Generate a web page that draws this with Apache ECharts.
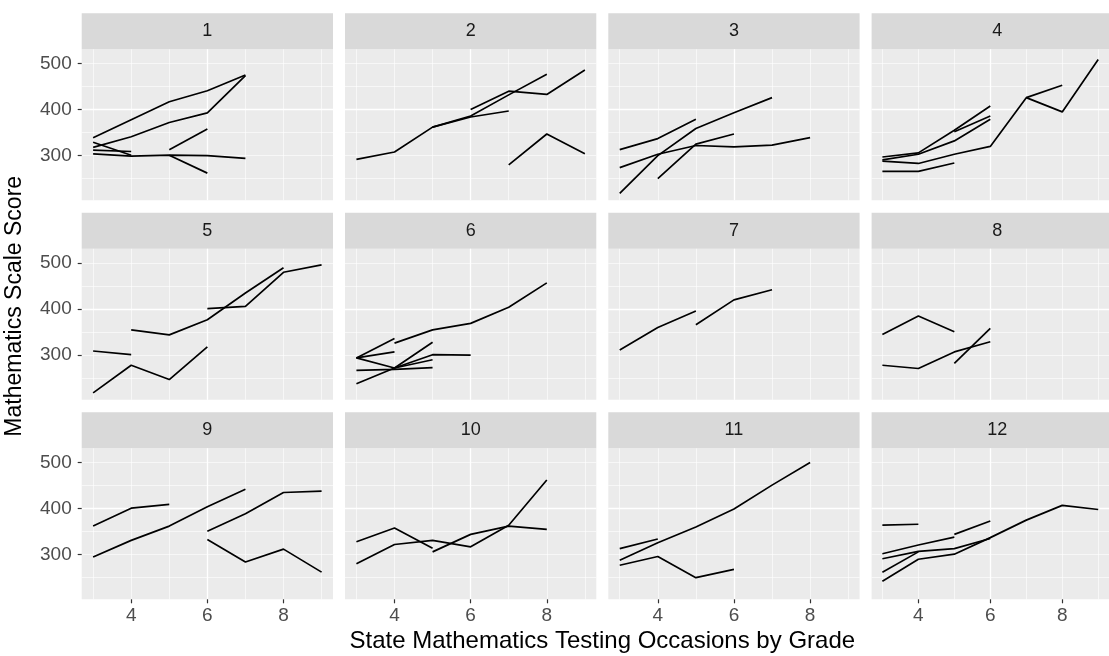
<!DOCTYPE html>
<html>
<head>
<meta charset="utf-8">
<script src="https://cdn.jsdelivr.net/npm/echarts@6/dist/echarts.min.js"></script>
<style>
  html, body { margin: 0; padding: 0; background: #ffffff; }
  #chart { width: 1109px; height: 656px; }
</style>
</head>
<body>
<div id="chart"></div>
<script>
// Testing occasions (grade) shared by every panel
const grades = [3, 4, 5, 6, 7, 8, 9];
const panelLabels = ['1', '2', '3', '4', '5', '6', '7', '8', '9', '10', '11', '12'];
const yTicks = [300, 400, 500];
const xTicks = [4, 6, 8];

// One row per student, scores aligned with `grades` (null = not tested)
const panel1 = [
  [339, 378, 417, 441, 475, null, null],
  [318, 341, 372, 393, 474, null, null],
  [329, 301, null, null, null, null, null],
  [312, 309, null, null, null, null, null],
  [304, 299, 301, 300, 294, null, null],
  [null, null, 313, 358, null, null, null],
  [null, null, 301, 262, null, null, null]
];
const panel2 = [
  [292, 308, 362, 386, 432, 477, null],
  [null, null, 362, 384, 397, null, null],
  [null, null, null, 400, 440, 433, 486],
  [null, null, null, null, 280, 347, 304]
];
const panel3 = [
  [313, 337, 379, null, null, null, null],
  [274, 303, 322, 319, 323, 339, null],
  [218, 300, 359, 393, 426, null, null],
  [null, 250, 325, 347, null, null, null]
];
const panel4 = [
  [297, 306, 355, 408, null, null, null],
  [291, 303, 332, 379, null, null, null],
  [null, null, 352, 386, null, null, null],
  [288, 283, 303, 320, 426, 395, 509],
  [null, null, null, null, 426, 453, null],
  [266, 266, 284, null, null, null, null]
];
const panel5 = [
  [309, 301, null, null, null, null, null],
  [218, 278, 247, 318, null, null, null],
  [null, 355, 344, 377, 435, 490, null],
  [null, null, null, 401, 406, 480, 496]
];
const panel6 = [
  [null, 326, 355, 369, 404, 457, null],
  [294, 336, null, null, null, null, null],
  [294, 307, null, null, null, null, null],
  [294, 272, 328, null, null, null, null],
  [267, 269, 273, null, null, null, null],
  [238, 272, 301, 300, null, null, null],
  [null, 272, 290, null, null, null, null]
];
const panel7 = [
  [311, 360, 396, null, null, null, null],
  [null, null, 366, 420, 442, null, null]
];
const panel8 = [
  [345, 385, 351, null, null, null, null],
  [278, 271, 307, 329, null, null, null],
  [null, null, 282, 358, null, null, null]
];
const panel9 = [
  [362, 401, 409, null, null, null, null],
  [295, 331, 362, 404, 442, null, null],
  [null, null, null, 351, 389, 435, 438],
  [null, null, null, 333, 284, 312, 262]
];
const panel10 = [
  [328, 358, 314, null, null, null, null],
  [280, 322, 331, 317, 364, 462, null],
  [null, null, 306, 344, 362, 355, null]
];
const panel11 = [
  [313, 334, null, null, null, null, null],
  [288, 326, 360, 399, 451, 500, null],
  [277, 296, 250, 268, null, null, null]
];
const panel12 = [
  [364, 366, null, null, null, null, null],
  [302, 321, 338, null, null, null, null],
  [null, null, 344, 373, null, null, null],
  [291, 307, 313, 335, null, null, null],
  [262, 306, null, null, null, null, null],
  [242, 290, 301, 337, 375, 407, 398]
];

const panels = [panel1, panel2, panel3, panel4, panel5, panel6,
                panel7, panel8, panel9, panel10, panel11, panel12];

// Facet layout (pixels)
const FONT = '"Liberation Sans", Arial, Helvetica, sans-serif';
const COLS = 4;
const colLeft0 = 81.7, colStep = 263.3, panelW = 251.3;
const rowTop0 = 13.3, rowStep = 199.5, stripH = 36, panelH = 151;
const X_MIN = 2.7, X_MAX = 9.3, Y_MIN = 203, Y_MAX = 531;

const grids = [], xAxes = [], yAxes = [], series = [], graphics = [];

panels.forEach((rows, i) => {
  const r = Math.floor(i / COLS), c = i % COLS;
  const left = colLeft0 + c * colStep;
  const stripTop = rowTop0 + r * rowStep;
  const top = stripTop + stripH;
  const bottomRow = r === 2, leftCol = c === 0;

  grids.push({
    left: left, top: top, width: panelW, height: panelH,
    show: true, backgroundColor: '#ebebeb', borderWidth: 0
  });

  // major x axis: ticks, labels, thick grid lines at 4, 6, 8
  xAxes.push({
    gridIndex: i, type: 'value', min: X_MIN, max: X_MAX,
    splitNumber: 3, minInterval: 2, maxInterval: 2,
    axisLine: { show: false },
    axisTick: { show: bottomRow, length: 4, customValues: xTicks,
                lineStyle: { color: '#333333', width: 1.2 } },
    axisLabel: { show: bottomRow, customValues: xTicks, margin: 7,
                 color: '#4d4d4d', fontSize: 19, fontFamily: FONT },
    splitLine: { show: true, showMinLine: false, showMaxLine: false,
                 lineStyle: { color: '#ffffff', width: 1.3 } }
  });
  // minor x axis: thin grid lines at every grade
  xAxes.push({
    gridIndex: i, type: 'value', min: X_MIN, max: X_MAX, position: 'bottom',
    splitNumber: 6, minInterval: 1, maxInterval: 1,
    axisLine: { show: false }, axisTick: { show: false }, axisLabel: { show: false },
    splitLine: { show: true, showMinLine: false, showMaxLine: false,
                 lineStyle: { color: '#ffffff', width: 0.6 } }
  });

  yAxes.push({
    gridIndex: i, type: 'value', min: Y_MIN, max: Y_MAX,
    splitNumber: 3, minInterval: 100, maxInterval: 100,
    axisLine: { show: false },
    axisTick: { show: leftCol, length: 4, customValues: yTicks,
                lineStyle: { color: '#333333', width: 1.2 } },
    axisLabel: { show: leftCol, customValues: yTicks, margin: 10,
                 color: '#4d4d4d', fontSize: 19, fontFamily: FONT },
    splitLine: { show: true, showMinLine: false, showMaxLine: false,
                 lineStyle: { color: '#ffffff', width: 1.3 } }
  });
  yAxes.push({
    gridIndex: i, type: 'value', min: Y_MIN, max: Y_MAX, position: 'left',
    splitNumber: 6, minInterval: 50, maxInterval: 50,
    axisLine: { show: false }, axisTick: { show: false }, axisLabel: { show: false },
    splitLine: { show: true, showMinLine: false, showMaxLine: false,
                 lineStyle: { color: '#ffffff', width: 0.6 } }
  });

  rows.forEach(row => {
    const data = [];
    grades.forEach((g, k) => { if (row[k] != null) data.push([g, row[k]]); });
    series.push({
      type: 'line', xAxisIndex: 2 * i, yAxisIndex: 2 * i,
      data: data, showSymbol: false, symbol: 'none', clip: true, silent: true,
      lineStyle: { color: '#000000', width: 1.7 }, z: 5
    });
  });

  // facet strip
  graphics.push({
    type: 'rect', silent: true,
    shape: { x: left, y: stripTop, width: panelW, height: stripH },
    style: { fill: '#d9d9d9' }
  });
  graphics.push({
    type: 'text', silent: true,
    x: left + panelW / 2, y: stripTop + stripH / 2,
    style: { text: panelLabels[i], align: 'center', verticalAlign: 'middle',
             fontSize: 18, fill: '#1a1a1a', fontFamily: FONT }
  });
});

const panelsRight = colLeft0 + (COLS - 1) * colStep + panelW;
const panelsBottom = rowTop0 + 2 * rowStep + stripH + panelH;

// axis titles
graphics.push({
  type: 'text', silent: true,
  x: (colLeft0 + panelsRight) / 2, y: 641,
  style: { text: 'State Mathematics Testing Occasions by Grade', align: 'center',
           verticalAlign: 'middle', fontSize: 24, fill: '#000000', fontFamily: FONT }
});
graphics.push({
  type: 'text', silent: true,
  x: 15, y: (rowTop0 + panelsBottom) / 2, rotation: Math.PI / 2,
  style: { text: 'Mathematics Scale Score', align: 'center',
           verticalAlign: 'middle', fontSize: 23, fill: '#000000', fontFamily: FONT }
});

const chart = echarts.init(document.getElementById('chart'), null, { renderer: 'canvas' });
chart.setOption({
  animation: false,
  backgroundColor: '#ffffff',
  grid: grids,
  xAxis: xAxes,
  yAxis: yAxes,
  series: series,
  graphic: { elements: graphics }
});
</script>
</body>
</html>
